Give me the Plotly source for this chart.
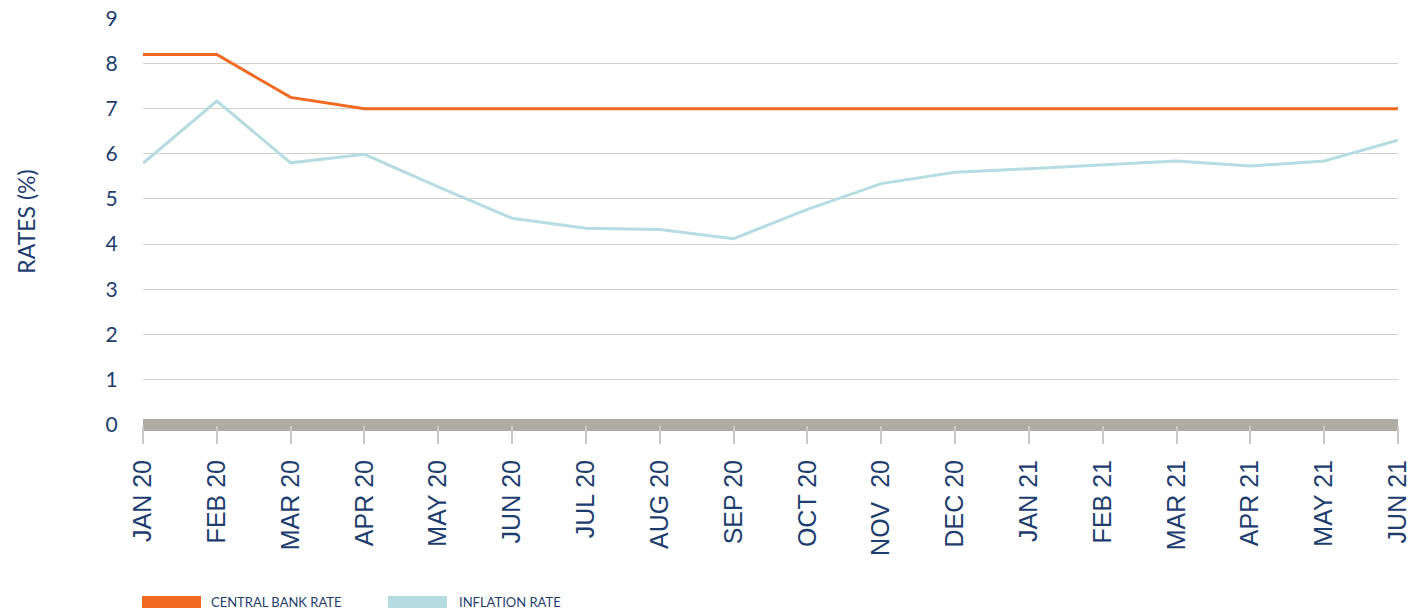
import plotly.graph_objects as go

months = ["JAN 20", "FEB 20", "MAR 20", "APR 20", "MAY 20", "JUN 20", "JUL 20", "AUG 20",
          "SEP 20", "OCT 20", "NOV  20", "DEC 20", "JAN 21", "FEB 21", "MAR 21", "APR 21",
          "MAY 21", "JUN 21"]
central_bank_rate = [8.2, 8.2, 7.25, 7.0, 7.0, 7.0, 7.0, 7.0, 7.0, 7.0, 7.0, 7.0, 7.0, 7.0,
                     7.0, 7.0, 7.0, 7.0]
inflation_rate = [5.79, 7.17, 5.8, 5.99, 5.27, 4.57, 4.35, 4.32, 4.12, 4.77, 5.34, 5.59,
                  5.67, 5.75, 5.84, 5.73, 5.84, 6.3]
y_ticks = [0, 1, 2, 3, 4, 5, 6, 7, 8, 9]
series_names = ["CENTRAL BANK RATE", "INFLATION RATE"]
series_colors = ["#f26a22", "#b6dce2"]

W, H = 1428, 612
ML, MR, MT, MB = 143, 30, 18, 187
NAVY = "#1e3d6f"

fig = go.Figure()
fig.add_trace(go.Scatter(x=months, y=central_bank_rate, mode="lines", name=series_names[0],
                         line=dict(color=series_colors[0], width=3), showlegend=False))
fig.add_trace(go.Scatter(x=months, y=inflation_rate, mode="lines", name=series_names[1],
                         line=dict(color=series_colors[1], width=3), showlegend=False))

pw = W - ML - MR
ph = H - MT - MB


def px2paper_x(px):
    return (px - ML) / pw


def px2paper_y(py):
    return (H - MB - py) / ph


# manual legend
legend_items = [(142, 201, 209), (388, 447, 457)]
for (x0, x1, tx), name, col in zip(legend_items, series_names, series_colors):
    fig.add_shape(type="rect", xref="paper", yref="paper",
                  x0=px2paper_x(x0), x1=px2paper_x(x1),
                  y0=px2paper_y(608), y1=px2paper_y(596),
                  fillcolor=col, line=dict(width=0))
    fig.add_annotation(xref="paper", yref="paper", x=px2paper_x(tx), y=px2paper_y(602),
                       text=name, showarrow=False, xanchor="left", yanchor="middle",
                       font=dict(family="Lato", size=13, color=NAVY))

fig.update_layout(
    width=W, height=H,
    margin=dict(l=ML, r=MR, t=MT, b=MB, autoexpand=False),
    paper_bgcolor="white", plot_bgcolor="white",
    showlegend=False,
    xaxis=dict(
        type="category", range=[0, len(months) - 1], automargin=False,
        showgrid=False, zeroline=False, showline=False,
        ticks="outside", ticklen=18, tickcolor="#c9c9c5", tickwidth=2,
        tickangle=-90, ticklabelstandoff=6,
        tickfont=dict(family="Liberation Sans", size=25, color=NAVY),
    ),
    yaxis=dict(
        range=[-0.01, 9.01], tickvals=y_ticks, automargin=False,
        showgrid=True, gridcolor="#d2d1cc", gridwidth=1,
        zeroline=True, zerolinecolor="#adaba3", zerolinewidth=12,
        showline=False,
        ticks="outside", ticklen=20, tickcolor="rgba(0,0,0,0)",
        tickfont=dict(family="Lato", size=21, color=NAVY),
        title=dict(text="RATES (%)", font=dict(family="Lato", size=23, color=NAVY), standoff=63),
    ),
)

fig.write_html("out.html")
